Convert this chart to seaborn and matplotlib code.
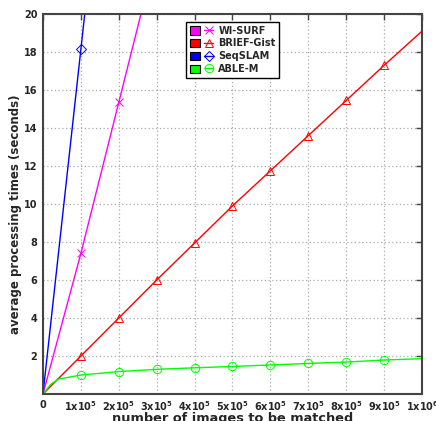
import numpy as np
import pandas as pd
import seaborn as sns
import matplotlib
matplotlib.use("Agg")
import matplotlib.pyplot as plt
from matplotlib.patches import Patch
from matplotlib.lines import Line2D
from matplotlib.legend_handler import HandlerTuple

# Average processing time (s) versus number of images to be matched
wisurf_x = [0, 1e5, 2e5, 3e5]
wisurf_y = [0.0, 7.4, 15.35, 23.3]

brief_x = [0, 1e5, 2e5, 3e5, 4e5, 5e5, 6e5, 7e5, 8e5, 9e5, 1e6]
brief_y = [0.0, 2.0, 4.0, 6.0, 7.95, 9.9, 11.75, 13.6, 15.45, 17.3, 19.1]

seqslam_x = [0, 1e5, 2e5]
seqslam_y = [0.0, 18.15, 36.3]

ablem_x = [0, 0.2e5, 0.4e5, 1e5, 2e5, 3e5, 4e5, 5e5, 6e5, 7e5, 8e5, 9e5, 1e6]
ablem_y = [0.0, 0.5, 0.78, 1.0, 1.18, 1.3, 1.38, 1.45, 1.53, 1.61, 1.68, 1.79, 1.86]

xtick_vals = [0, 1e5, 2e5, 3e5, 4e5, 5e5, 6e5, 7e5, 8e5, 9e5, 1e6]
xtick_labels = (["0"] + [r"$\mathbf{%dx10^{5}}$" % i for i in range(1, 10)]
                + [r"$\mathbf{1x10^{6}}$"])
ytick_vals = [2, 4, 6, 8, 10, 12, 14, 16, 18, 20]

series = [
    ("WI-SURF", wisurf_x, wisurf_y, "#ff00ff", "x"),
    ("BRIEF-Gist", brief_x, brief_y, "#ff0000", "^"),
    ("SeqSLAM", seqslam_x, seqslam_y, "#0000ff", "D"),
    ("ABLE-M", ablem_x, ablem_y, "#00ff00", "o"),
]

sns.set_style("white")
plt.rcParams["font.family"] = ["DejaVu Sans"]
plt.rcParams["mathtext.fontset"] = "dejavusans"

fig = plt.figure(figsize=(4.36, 4.21), dpi=100)
ax = fig.add_axes([0.0986, 0.0641, 0.8693, 0.9026])

for name, xs, ys, color, marker in series:
    df = pd.DataFrame({"n": xs, "t": ys})
    mark_idx = [i for i, v in enumerate(xs) if 0 < v < 1e6 and v in xtick_vals]
    sns.lineplot(data=df, x="n", y="t", ax=ax, color=color, linewidth=1.0,
                 marker=marker, markevery=mark_idx, markersize=6 if marker != "D" else 5,
                 markerfacecolor="none", markeredgecolor=color, markeredgewidth=0.7,
                 legend=False, estimator=None, sort=False)

ax.set_xlim(0, 1e6)
ax.set_ylim(0, 20)
ax.set_xticks(xtick_vals)
ax.set_xticklabels(xtick_labels)
ax.set_yticks(ytick_vals)
ax.tick_params(axis="both", which="both", direction="in", length=4, width=1,
               top=True, right=True, labelsize=7, pad=4, color="#444444")
for lab in ax.get_xticklabels() + ax.get_yticklabels():
    lab.set_fontweight("bold")

ax.grid(True, linestyle=(0, (1, 2)), color="#aaaaaa", linewidth=0.9)
for sp in ax.spines.values():
    sp.set_color("#444444")
    sp.set_linewidth(1.5)

ax.set_xlabel("number of images to be matched", fontsize=9.3, fontweight="bold", labelpad=-1)
ax.set_ylabel("average processing times (seconds)", fontsize=8.5, fontweight="bold")
ax.yaxis.set_label_coords(-0.056, 0.474)

handles = []
for name, xs, ys, color, marker in series:
    sq = Patch(facecolor=color, edgecolor="black", linewidth=0.8)
    ln = Line2D([], [], color=color, linewidth=1.0, marker=marker,
                markersize=6 if marker != "D" else 5, markerfacecolor="none",
                markeredgecolor=color, markeredgewidth=0.7)
    handles.append((sq, ln))

leg = ax.legend(handles, [s[0] for s in series],
                handler_map={tuple: HandlerTuple(ndivide=None, pad=0.4)},
                loc="upper left", bbox_to_anchor=(0.378, 0.98),
                prop={"weight": "bold", "size": 7}, frameon=True, fancybox=False,
                edgecolor="black", framealpha=1, borderpad=0.4, labelspacing=0.3,
                handlelength=2.4, handleheight=1.0, handletextpad=0.5, borderaxespad=0)
leg.get_frame().set_linewidth(1.0)

fig.savefig("out.png", dpi=100)
